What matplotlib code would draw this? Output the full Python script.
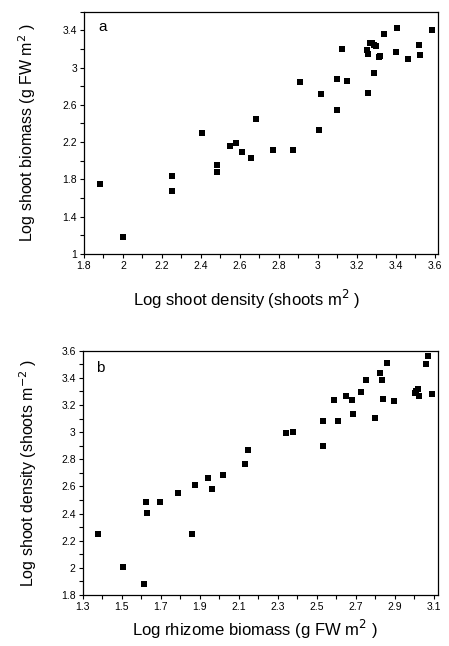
import numpy as np
import matplotlib
matplotlib.use("Agg")
import matplotlib.pyplot as plt
from matplotlib.ticker import MultipleLocator, FixedLocator

# panel a: log shoot density vs log shoot biomass
a_density = [1.88, 2.00, 2.25, 2.25, 2.405, 2.48, 2.48, 2.55, 2.58, 2.61, 2.658, 2.685,
             2.768, 2.873, 2.908, 3.005, 3.017, 3.099, 3.099, 3.126, 3.15, 3.256, 3.253,
             3.256, 3.267, 3.277, 3.287, 3.30, 3.287, 3.311, 3.318, 3.338, 3.408, 3.401,
             3.46, 3.518, 3.526, 3.585]
a_biomass = [1.75, 1.18, 1.84, 1.67, 2.30, 1.95, 1.88, 2.16, 2.195, 2.095, 2.03, 2.447,
             2.11, 2.113, 2.845, 2.33, 2.72, 2.877, 2.543, 3.197, 2.852, 2.73, 3.187,
             3.144, 3.268, 3.258, 3.247, 3.233, 2.941, 3.108, 3.123, 3.358, 3.428, 3.172,
             3.094, 3.24, 3.13, 3.40]

# panel b: log rhizome biomass vs log shoot density
b_rhizome = [1.38, 1.505, 1.616, 1.623, 1.63, 1.698, 1.787, 1.861, 1.876, 1.944, 1.963,
             2.021, 2.134, 2.146, 2.342, 2.379, 2.53, 2.532, 2.588, 2.609, 2.65, 2.68,
             2.686, 2.727, 2.752, 2.80, 2.824, 2.833, 2.838, 2.858, 2.896, 3.005, 3.01,
             3.018, 3.025, 3.061, 3.068, 3.089]
b_density = [2.25, 2.006, 1.881, 2.485, 2.404, 2.483, 2.549, 2.25, 2.608, 2.66, 2.578,
             2.682, 2.765, 2.866, 2.991, 3.003, 3.084, 2.895, 3.237, 3.082, 3.269, 3.237,
             3.131, 3.293, 3.382, 3.107, 3.436, 3.384, 3.244, 3.507, 3.232, 3.29, 3.30,
             3.315, 3.264, 3.499, 3.561, 3.283]

a_xticks = [1.8, 2.0, 2.2, 2.4, 2.6, 2.8, 3.0, 3.2, 3.4, 3.6]
a_xlabels = ['1.8', '2', '2.2', '2.4', '2.6', '2.8', '3', '3.2', '3.4', '3.6']
a_yticks = [1.0, 1.4, 1.8, 2.2, 2.6, 3.0, 3.4]
a_ylabels = ['1', '1.4', '1.8', '2.2', '2.6', '3', '3.4']
b_xticks = [1.3, 1.5, 1.7, 1.9, 2.1, 2.3, 2.5, 2.7, 2.9, 3.1]
b_xlabels = ['1.3', '1.5', '1.7', '1.9', '2.1', '2.3', '2.5', '2.7', '2.9', '3.1']
b_yticks = [1.8, 2.0, 2.2, 2.4, 2.6, 2.8, 3.0, 3.2, 3.4, 3.6]
b_ylabels = ['1.8', '2', '2.2', '2.4', '2.6', '2.8', '3', '3.2', '3.4', '3.6']

plt.rcParams['font.family'] = ['Liberation Sans', 'DejaVu Sans']

fig = plt.figure(figsize=(4.49, 6.46), dpi=100)
ax1 = fig.add_axes([0.187, 0.607, 0.788, 0.375])
ax2 = fig.add_axes([0.184, 0.079, 0.791, 0.378])


def style(ax, xt, xl, yt, yl, xminor, yminor):
    ax.xaxis.set_major_locator(FixedLocator(xt))
    ax.set_xticklabels(xl)
    ax.yaxis.set_major_locator(FixedLocator(yt))
    ax.set_yticklabels(yl)
    ax.xaxis.set_minor_locator(MultipleLocator(xminor))
    ax.yaxis.set_minor_locator(MultipleLocator(yminor))
    ax.tick_params(which='both', direction='out', length=3, width=0.8,
                   labelsize=7.5, pad=2)
    for s in ax.spines.values():
        s.set_linewidth(0.9)


ax1.scatter(a_density, a_biomass, marker='s', s=13, color='black', linewidths=0)
ax1.set_xlim(1.8, 3.615)
ax1.set_ylim(1.0, 3.6)
style(ax1, a_xticks, a_xlabels, a_yticks, a_ylabels, 0.1, 0.2)
ax1.text(0.054, 0.937, 'a', transform=ax1.transAxes, fontsize=11, ha='center', va='center')
ax1.text(0.46, -0.19, 'Log shoot density (shoots m$^{2}$ )', transform=ax1.transAxes,
         ha='center', va='center', fontsize=12)
ax1.text(-0.161, 0.5, 'Log shoot biomass (g FW m$^{2}$ )', transform=ax1.transAxes,
         ha='center', va='center', rotation=90, fontsize=11.5)

ax2.scatter(b_rhizome, b_density, marker='s', s=13, color='black', linewidths=0)
ax2.set_xlim(1.3, 3.12)
ax2.set_ylim(1.8, 3.6)
style(ax2, b_xticks, b_xlabels, b_yticks, b_ylabels, 0.1, 0.1)
ax2.text(0.049, 0.929, 'b', transform=ax2.transAxes, fontsize=11, ha='center', va='center')
ax2.text(0.485, -0.143, 'Log rhizome biomass (g FW m$^{2}$ )', transform=ax2.transAxes,
         ha='center', va='center', fontsize=12)
ax2.text(-0.154, 0.5, 'Log shoot density (shoots m$^{-2}$ )', transform=ax2.transAxes,
         ha='center', va='center', rotation=90, fontsize=11.5)

fig.savefig('out.png', dpi=100)
